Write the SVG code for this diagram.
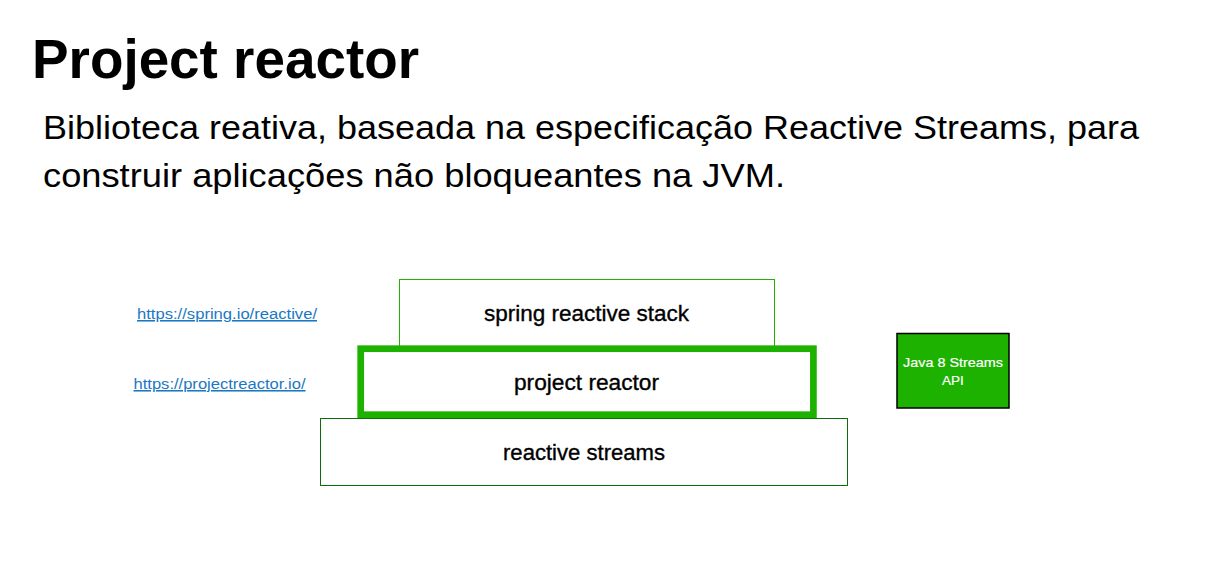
<svg xmlns="http://www.w3.org/2000/svg" width="1222" height="585" viewBox="0 0 1222 585">
<style>
.title{font-family:"Liberation Sans",Arial,sans-serif;font-weight:bold;font-size:56px;fill:#000}
.sub{font-family:"Liberation Sans",Arial,sans-serif;font-size:33px;fill:#000}
.lbl{font-family:"Liberation Sans",Arial,sans-serif;font-size:22px;fill:#000;stroke:#000;stroke-width:0.35;text-anchor:middle}
.link{font-family:"Liberation Sans",Arial,sans-serif;font-size:15.5px;fill:#1a78c2;text-decoration:underline}
.jtxt{font-family:"Liberation Sans",Arial,sans-serif;font-size:13.5px;fill:#fff;stroke:#fff;stroke-width:0.2;text-anchor:middle}
.thin{fill:#fff;stroke:#1db100;stroke-width:1}
.dark{fill:#fff;stroke:#0b6e0b;stroke-width:1}
.thick{fill:#fff;stroke:#1db100;stroke-width:6.7}
</style>
<rect width="1222" height="585" fill="#fff"/>
<text class="title" x="32" y="77.5" textLength="387" lengthAdjust="spacingAndGlyphs">Project reactor</text>
<text class="sub" x="43" y="139" textLength="1096" lengthAdjust="spacingAndGlyphs">Biblioteca reativa, baseada na especificação Reactive Streams, para</text>
<text class="sub" x="43" y="187" textLength="742" lengthAdjust="spacingAndGlyphs">construir aplicações não bloqueantes na JVM.</text>
<g id="links">
<text class="link" x="137" y="319" textLength="180" lengthAdjust="spacingAndGlyphs">https://spring.io/reactive/</text>
<text class="link" x="133.5" y="389" textLength="172" lengthAdjust="spacingAndGlyphs">https://projectreactor.io/</text>
</g>
<g id="connectors"></g>
<g id="spring-reactive-stack">
<rect class="thin" x="399.5" y="279.5" width="375" height="70"/>
<text class="lbl" x="586.5" y="321" textLength="205" lengthAdjust="spacingAndGlyphs">spring reactive stack</text>
</g>
<g id="reactive-streams">
<rect class="dark" x="320.5" y="418.5" width="527" height="67"/>
<text class="lbl" x="584" y="460" textLength="162" lengthAdjust="spacingAndGlyphs">reactive streams</text>
</g>
<g id="project-reactor">
<rect class="thick" x="360.7" y="348.7" width="452.7" height="66"/>
<text class="lbl" x="586.5" y="390" textLength="145" lengthAdjust="spacingAndGlyphs">project reactor</text>
</g>
<g id="java8-streams">
<rect x="897" y="333.5" width="112" height="74.5" fill="#1db100" stroke="#000" stroke-width="1.5"/>
<text class="jtxt" x="953" y="367" textLength="100" lengthAdjust="spacingAndGlyphs">Java 8 Streams</text>
<text class="jtxt" x="953" y="384.5">API</text>
</g>
</svg>
